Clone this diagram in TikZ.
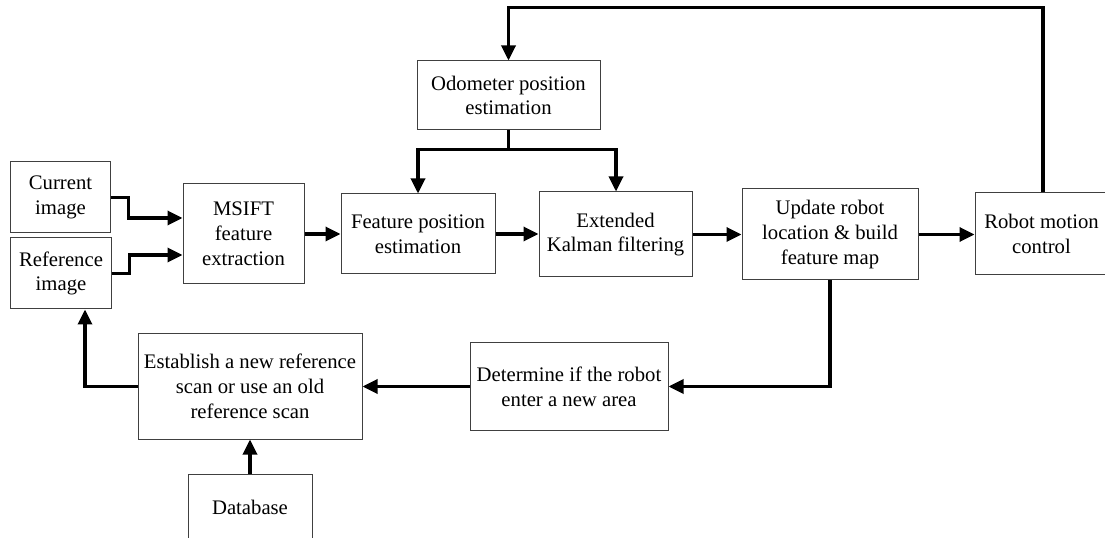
\documentclass[tikz,border=0pt]{standalone}
\usepackage{fontspec}
\setmainfont{Liberation Serif}
\usetikzlibrary{arrows.meta}
\begin{document}
\begin{tikzpicture}[x=1bp,y=-1bp,
  blk/.style={draw=black!75, line width=1bp, align=center, inner sep=0pt,
    font=\fontsize{20.7bp}{24.8bp}\selectfont},
  flow/.style={line width=3.3bp, -{Triangle[length=15bp,width=14bp]}},
  wire/.style={line width=3.3bp}]
\useasboundingbox (0,0) rectangle (1105,538);
\clip (0,0) rectangle (1105,538);

% processing blocks
\node[blk, minimum width=99bp,  minimum height=71bp]  (cur)   at (60.5,197.5)  {Current\\image};
\node[blk, minimum width=100bp, minimum height=71bp]  (ref)   at (61,273.5)    {Reference\\image};
\node[blk, minimum width=121bp, minimum height=100bp] (msift) at (243.5,234)   {MSIFT\\feature\\extraction};
\node[blk, minimum width=154bp, minimum height=80bp]  (feat)  at (418,234)     {Feature position\\estimation};
\node[blk, minimum width=153bp, minimum height=85bp]  (ekf)   at (615.5,234.5) {Extended\\Kalman filtering};
\node[blk, minimum width=183bp, minimum height=69bp]  (odo)   at (508.5,95.5)  {Odometer position\\estimation};
\node[blk, minimum width=176bp, minimum height=91bp]  (upd)   at (830,234.5)   {Update robot\\location \& build\\feature map};
\node[blk, minimum width=133bp, minimum height=82bp]  (rob)   at (1041.5,234)  {Robot motion\\control};
\node[blk, minimum width=224bp, minimum height=105bp] (est)   at (250,386.5)   {Establish a new reference\\scan or use an old\\reference scan};
\node[blk, minimum width=198bp, minimum height=87bp]  (det)   at (569,386.5)   {Determine if the robot\\enter a new area};
\node[blk, minimum width=124bp, minimum height=66bp]  (db)    at (250,507)     {Database};

% image inputs to feature extraction
\draw[flow] (cur.east) -- ++(18,0) |- ([yshift=16bp]msift.west);
\draw[flow] (ref.east) -- ++(18,0) |- ([yshift=-21bp]msift.west);

% main chain
\draw[flow] (msift.east) -- (feat.west);
\draw[flow] (feat.east) -- (ekf.west |- feat.east);
\draw[flow] (ekf.east) -- (upd.west |- ekf.east);
\draw[flow] (upd.east) -- (rob.west |- upd.east);

% motion feedback to odometry
\draw[flow] ([xshift=1.5bp]rob.north) -- ++(0,-185) -| (odo.north);
\draw[wire] (odo.south) -- ++(0,19) coordinate (split);
\draw[flow] (split) -| (feat.north);
\draw[flow] (split) -| ([xshift=0.5bp]ekf.north);

% reference update loop
\draw[flow] (upd.south) |- (det.east);
\draw[flow] (det.west) -- (est.east);
\draw[flow] (est.west) -| ([xshift=24bp]ref.south);
\draw[flow] (db.north) -- (est.south);
\end{tikzpicture}
\end{document}
